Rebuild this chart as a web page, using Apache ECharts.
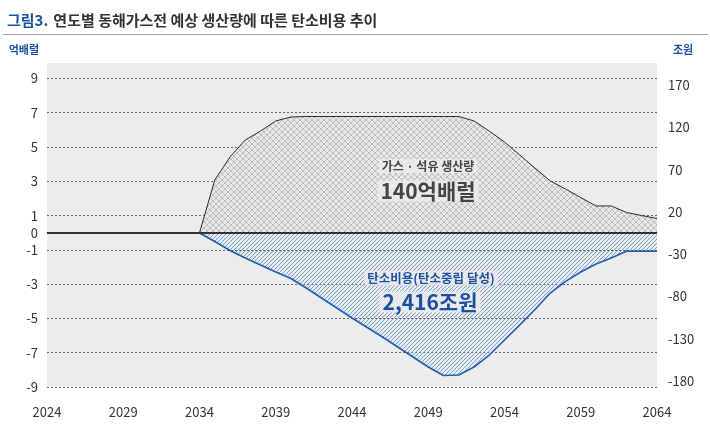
<!DOCTYPE html>
<html><head><meta charset="utf-8">
<script src="https://cdn.jsdelivr.net/npm/echarts@6/dist/echarts.min.js"></script>
<style>html,body{margin:0;padding:0;background:#fff}#c{width:710px;height:441px}</style>
</head><body><div id="c"></div>
<script>
const years = ['2024','2025','2026','2027','2028','2029','2030','2031','2032','2033','2034','2035','2036','2037','2038','2039','2040','2041','2042','2043','2044','2045','2046','2047','2048','2049','2050','2051','2052','2053','2054','2055','2056','2057','2058','2059','2060','2061','2062','2063','2064'];
// 가스·석유 생산량 (억배럴, left axis)
const productionValues = [null,null,null,null,null,null,null,null,null,null,
  0, 3.07, 4.42, 5.41, 5.93, 6.52, 6.75,
  6.78, 6.78, 6.78, 6.78, 6.78, 6.78, 6.78, 6.78, 6.78, 6.78, 6.78,
  6.52, 5.93, 5.29, 4.53, 3.77, 3.02, 2.55, 2.05, 1.56, 1.56, 1.18, 1.0, 0.83];
// 탄소비용 (조원, right axis)
const carbonCostValues = [null,null,null,null,null,null,null,null,null,null,
  -5, -15, -25.6, -34.5, -42.8, -51.1, -58.7,
  -70, -81.8, -93.6, -105.4, -116.7, -127.9, -139.7, -151.5, -163.4,
  -173.4, -172.8, -163.4, -149.2, -131.4, -113.7, -95.4, -75.9, -62.2, -51.1,
  -41.6, -34.5, -26.6, -26.6, -26.6];
const leftTickValues = [-9, -7, -5, -3, -1, 0, 1, 3, 5, 7, 9];
const rightTickValues = [-180, -130, -80, -30, 20, 70, 120, 170];
const titleLabel = '그림3.';
const titleText = '연도별 동해가스전 예상 생산량에 따른 탄소비용 추이';
const leftUnit = '억배럴';
const rightUnit = '조원';
const productionNote = ['가스 · 석유 생산량', '140억배럴'];
const costNote = ['탄소비용(탄소중립 달성)', '2,416조원'];

const FONT = '"Noto Sans CJK KR", "Noto Sans", sans-serif';
const BLUE = '#1b4f9f';

function makeCross() {
  const c = document.createElement('canvas');
  c.width = 6; c.height = 6;
  const g = c.getContext('2d');
  g.fillStyle = '#e7e7e7'; g.fillRect(0, 0, 6, 6);
  g.strokeStyle = '#b3b3b3'; g.lineWidth = 0.8;
  g.beginPath(); g.moveTo(0, 0); g.lineTo(6, 6); g.moveTo(6, 0); g.lineTo(0, 6); g.stroke();
  return c;
}
function makeHatch() {
  const c = document.createElement('canvas');
  c.width = 4; c.height = 4;
  const g = c.getContext('2d');
  g.strokeStyle = '#6495d4'; g.lineWidth = 0.9;
  g.beginPath(); g.moveTo(-1, 5); g.lineTo(5, -1); g.stroke();
  return c;
}

const chart = echarts.init(document.getElementById('c'), null, {renderer: 'canvas'});
chart.setOption({
  animation: false,
  backgroundColor: '#fff',
  title: {
    text: '{a|' + titleLabel + '} {b|' + titleText + '}',
    left: 2, top: 6,
    textStyle: {
      rich: {
        a: {fontFamily: FONT, fontSize: 15, fontWeight: 'bold', color: BLUE},
        b: {fontFamily: FONT, fontSize: 15, fontWeight: 'bold', color: '#333'}
      }
    }
  },
  grid: {left: 47, right: 53, top: 63, bottom: 54, show: true, backgroundColor: '#ececec', borderWidth: 0},
  xAxis: {
    type: 'category', data: years, boundaryGap: false,
    axisLine: {lineStyle: {color: '#bdbdbd', width: 1}},
    axisTick: {show: false},
    axisLabel: {interval: 4, margin: 19, fontFamily: FONT, fontSize: 13, color: '#333'},
    splitLine: {show: false}
  },
  yAxis: [{
    type: 'value', min: -9, max: 9.9, position: 'left',
    name: leftUnit, nameLocation: 'end', nameGap: 8,
    nameTextStyle: {fontFamily: FONT, fontSize: 11, fontWeight: 'bold', color: BLUE, align: 'right', padding: [0, 8, 0, 0]},
    axisLine: {show: false},
    axisTick: {show: false, customValues: leftTickValues},
    axisLabel: {customValues: leftTickValues, margin: 9, fontFamily: FONT, fontSize: 13, color: '#333'},
    splitLine: {show: true, lineStyle: {color: '#666', type: [2, 2], width: 1}}
  }, {
    type: 'value', min: -187, max: 196, position: 'right',
    name: rightUnit, nameLocation: 'end', nameGap: 8,
    nameTextStyle: {fontFamily: FONT, fontSize: 11, fontWeight: 'bold', color: BLUE, align: 'left', padding: [0, 0, 0, 16]},
    axisLine: {show: false},
    axisTick: {show: false, customValues: rightTickValues},
    axisLabel: {customValues: rightTickValues, margin: 11, fontFamily: FONT, fontSize: 13, color: '#333'},
    splitLine: {show: false}
  }],
  series: [{
    name: '탄소비용', type: 'line', yAxisIndex: 1, data: carbonCostValues,
    symbol: 'none', z: 2,
    lineStyle: {color: '#1f5cb3', width: 1.6},
    areaStyle: {color: {image: makeHatch(), repeat: 'repeat'}, opacity: 1}
  }, {
    name: '생산량', type: 'line', yAxisIndex: 0, data: productionValues,
    symbol: 'none', z: 3,
    lineStyle: {color: '#2a2a2a', width: 1},
    areaStyle: {color: {image: makeCross(), repeat: 'repeat'}, opacity: 1},
    markLine: {
      silent: true, symbol: 'none', label: {show: false},
      lineStyle: {color: '#333', type: 'solid', width: 2},
      data: [{yAxis: 0}]
    }
  }],
  graphic: [
    {type: 'line', shape: {x1: 3, y1: 34.5, x2: 708, y2: 34.5}, style: {stroke: '#a0a0a0', lineWidth: 1}},
    {type: 'text', x: 428, y: 166, z: 10, style: {text: productionNote[0], align: 'center', verticalAlign: 'middle', font: 'bold 12px ' + FONT, fill: '#444', backgroundColor: 'rgba(236,236,236,0.85)', padding: [1, 3]}},
    {type: 'text', x: 428, y: 191, z: 10, style: {text: productionNote[1], align: 'center', verticalAlign: 'middle', font: 'bold 21px ' + FONT, fill: '#444', backgroundColor: 'rgba(236,236,236,0.85)', padding: [0, 3]}},
    {type: 'text', x: 431, y: 278, z: 10, style: {text: costNote[0], align: 'center', verticalAlign: 'middle', font: 'bold 12.5px ' + FONT, fill: BLUE, backgroundColor: 'rgba(236,236,236,0.85)', padding: [1, 3]}},
    {type: 'text', x: 430, y: 302, z: 10, style: {text: costNote[1], align: 'center', verticalAlign: 'middle', font: 'bold 21px ' + FONT, fill: BLUE, backgroundColor: 'rgba(236,236,236,0.85)', padding: [0, 3]}}
  ]
});
</script></body></html>
